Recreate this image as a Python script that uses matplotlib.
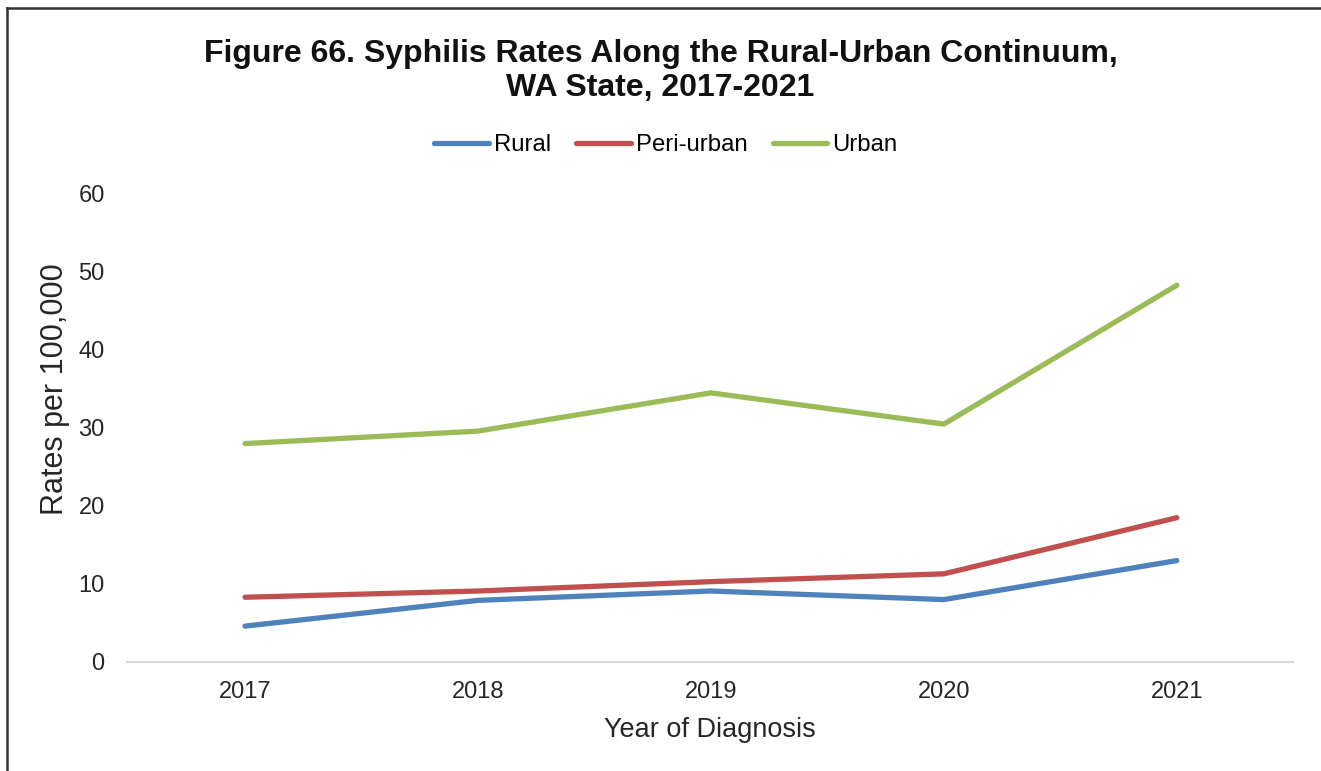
import matplotlib.pyplot as plt
from matplotlib.lines import Line2D

# data
years = ['2017', '2018', '2019', '2020', '2021']
rural = [4.6, 7.9, 9.1, 8.0, 13.0]
peri_urban = [8.3, 9.1, 10.3, 11.3, 18.5]
urban = [28.0, 29.6, 34.5, 30.5, 48.3]

plt.rcParams['font.family'] = ['Liberation Sans', 'DejaVu Sans']

fig = plt.figure(figsize=(13.21, 7.71), dpi=100)
ax = fig.add_axes([0.0961, 0.1414, 0.8829, 0.607])

x = range(len(years))
ax.plot(x, rural, color='#4F81BD', lw=3.8, solid_capstyle='round', label='Rural')
ax.plot(x, peri_urban, color='#C0504D', lw=3.8, solid_capstyle='round', label='Peri-urban')
ax.plot(x, urban, color='#9BBB59', lw=3.8, solid_capstyle='round', label='Urban')

ax.set_xlim(-0.507, 4.5)
ax.set_ylim(0, 60)
ax.set_xticks(list(x))
ax.set_xticklabels(years)
ax.set_yticks(range(0, 61, 10))
ax.tick_params(length=0, labelsize=17, colors='#262626')
ax.tick_params(axis='x', pad=14)
ax.tick_params(axis='y', pad=16)
for s in ['top', 'right', 'left']:
    ax.spines[s].set_visible(False)
ax.spines['bottom'].set_color('#d9d9d9')
ax.spines['bottom'].set_linewidth(1.5)

ax.set_xlabel('Year of Diagnosis', fontsize=19.5, color='#262626', labelpad=10)
ax.set_ylabel('Rates per 100,000', fontsize=22, color='#262626')
ax.yaxis.set_label_coords(-0.0485, 0.583)

fig.suptitle('Figure 66. Syphilis Rates Along the Rural-Urban Continuum,\nWA State, 2017-2021',
             fontsize=23, fontweight='bold', y=0.950, linespacing=1.2, color='#111111')

fig.legend(loc='center', bbox_to_anchor=(0.504, 1 - 145 / 771), ncol=3, frameon=False,
           fontsize=17.2, handlelength=2.3, handletextpad=0.2, columnspacing=1.05)

# partial outer border (left and top)
fig.add_artist(Line2D([7/1321, 7/1321], [0, 1 - 8/771], color='#333333', lw=1.8))
fig.add_artist(Line2D([7/1321, 1], [1 - 8/771, 1 - 8/771], color='#333333', lw=1.8))

plt.savefig('out.png', dpi=100)
